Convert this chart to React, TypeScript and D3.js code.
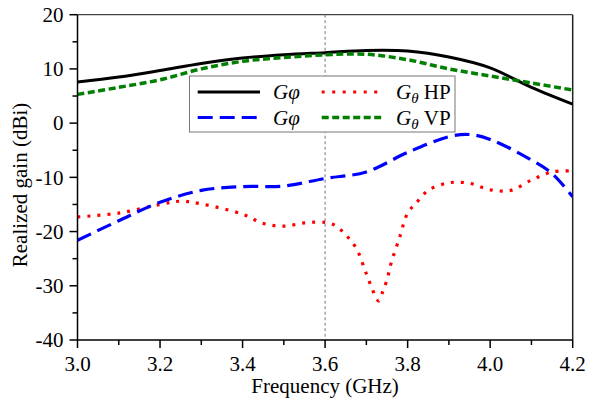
import React from "react";
import * as d3 from "d3";

const freqMain = [3.0, 3.1, 3.2, 3.3, 3.4, 3.5, 3.6, 3.7, 3.8, 3.9, 4.0, 4.1, 4.2];
const gPhiBlack = [7.6, 8.5, 9.7, 11.0, 12.0, 12.6, 13.0, 13.4, 13.3, 12.2, 10.2, 6.6, 3.5];
const gThetaVP = [5.3, 6.6, 8.0, 10.0, 11.4, 12.1, 12.6, 12.7, 11.7, 10.0, 8.7, 7.4, 6.1];
const freqBlue = [3.0, 3.1, 3.2, 3.3, 3.4, 3.5, 3.6, 3.7, 3.8, 3.9, 3.95, 4.0, 4.1, 4.15, 4.2];
const gPhiBlue = [-21.6, -18.0, -14.6, -12.4, -11.7, -11.6, -10.2, -9.0, -5.4, -2.5, -2.1, -3.0, -6.8, -9.3, -13.6];
const freqRed = [3.0, 3.1, 3.2, 3.25, 3.3, 3.4, 3.45, 3.5, 3.55, 3.6, 3.625, 3.65, 3.675, 3.7, 3.72, 3.73, 3.74, 3.75, 3.76, 3.78, 3.8, 3.82, 3.85, 3.9, 3.95, 4.0, 4.05, 4.1, 4.15, 4.2];
const gThetaHP = [-17.3, -16.6, -15.0, -14.4, -14.9, -16.8, -18.5, -19.0, -18.4, -18.3, -18.9, -20.6, -23.0, -27.8, -31.6, -32.8, -31.0, -28.9, -25.8, -21.2, -16.6, -14.8, -12.4, -11.0, -11.1, -12.3, -12.4, -10.5, -9.0, -8.8];
const xTicks = [3.0, 3.2, 3.4, 3.6, 3.8, 4.0, 4.2];
const xMinor = [3.1, 3.3, 3.5, 3.7, 3.9, 4.1];
const yTicks = [20, 10, 0, -10, -20, -30, -40];
const yMinor = [15, 5, -5, -15, -25, -35];
const markerFreq = 3.6;

const FONT = "Liberation Serif";
const ts: React.CSSProperties = { fontFamily: FONT };

export default function App() {
  const left = 77.5, right = 572.7, top = 14.7, bottom = 340;
  const x = d3.scaleLinear().domain([3.0, 4.2]).range([left, right]);
  const y = d3.scaleLinear().domain([-40, 20]).range([bottom, top]);
  const mk = (xs: number[], ys: number[]) =>
    d3.line<number>().x((_, i) => x(xs[i])).y((d) => y(d)).curve(d3.curveCatmullRom.alpha(0.5))(ys) || "";

  const lgX = 189.5, lgY = 76, lgW = 265.5, lgH = 56;
  return (
    <svg width={593} height={404} style={{ position: "absolute", left: 0, top: 0, background: "#fff", fontFamily: FONT }}>
      <defs>
        <clipPath id="plot">
          <rect x={left} y={top} width={right - left} height={bottom - top} />
        </clipPath>
      </defs>
      <line x1={left} x2={right} y1={top} y2={top} stroke="#444" strokeWidth={1.3} />
      <line x1={right} x2={right} y1={top} y2={bottom} stroke="#222" strokeWidth={1.5} />
      <line x1={x(markerFreq)} x2={x(markerFreq)} y1={top} y2={bottom} stroke="#777" strokeWidth={1} strokeDasharray="3,2.5" />
      <g clipPath="url(#plot)" fill="none">
        <path d={mk(freqRed, gThetaHP)} stroke="#ff0000" strokeWidth={3.2} strokeDasharray="3,7" />
        <path d={mk(freqBlue, gPhiBlue)} stroke="#0000ff" strokeWidth={3.2} strokeDasharray="15,7" />
        <path d={mk(freqMain, gPhiBlack)} stroke="#000" strokeWidth={3} />
        <path d={mk(freqMain, gThetaVP)} stroke="#008000" strokeWidth={3.5} strokeDasharray="7,3.5" />
      </g>
      <line x1={left} x2={left} y1={top} y2={bottom} stroke="#000" strokeWidth={1.5} />
      <line x1={left} x2={right} y1={bottom} y2={bottom} stroke="#000" strokeWidth={1.5} />
      {yTicks.map((t) => (
        <g key={"y" + t}>
          <line x1={left - 8} x2={left} y1={y(t)} y2={y(t)} stroke="#000" strokeWidth={1.5} />
          <text x={63.5} y={y(t)} dy="0.35em" textAnchor="end" fontSize={21} style={ts}>{t}</text>
        </g>
      ))}
      {yMinor.map((t) => (
        <line key={"ym" + t} x1={left - 5} x2={left} y1={y(t)} y2={y(t)} stroke="#000" strokeWidth={1.5} />
      ))}
      {xTicks.map((t) => (
        <g key={"x" + t}>
          <line x1={x(t)} x2={x(t)} y1={bottom} y2={bottom + 8} stroke="#000" strokeWidth={1.5} />
          <text x={x(t)} y={370.5} textAnchor="middle" fontSize={21} style={ts}>{t.toFixed(1)}</text>
        </g>
      ))}
      {xMinor.map((t) => (
        <line key={"xm" + t} x1={x(t)} x2={x(t)} y1={bottom} y2={bottom + 5} stroke="#000" strokeWidth={1.5} />
      ))}
      <text x={(left + right) / 2} y={393} textAnchor="middle" fontSize={21} style={ts}>Frequency (GHz)</text>
      <text transform="translate(27,185) rotate(-90)" textAnchor="middle" fontSize={21} style={ts}>Realized gain (dBi)</text>
      <rect x={lgX} y={lgY} width={lgW} height={lgH} fill="#fff" stroke="#777" strokeWidth={1} />
      <line x1={197.7} x2={260} y1={92} y2={92} stroke="#000" strokeWidth={3} />
      <line x1={197.7} x2={260} y1={117.5} y2={117.5} stroke="#0000ff" strokeWidth={3.2} strokeDasharray="15,7" />
      <line x1={321.7} x2={381.7} y1={92} y2={92} stroke="#ff0000" strokeWidth={3.2} strokeDasharray="3,7.5" />
      <line x1={321.7} x2={381.7} y1={117.5} y2={117.5} stroke="#008000" strokeWidth={3.5} strokeDasharray="7,3.5" />
      <text x={273} y={99} fontSize={21} fontStyle="italic" style={ts}>Gφ</text>
      <text x={273} y={124.5} fontSize={21} fontStyle="italic" style={ts}>Gφ</text>
      <text x={396} y={99} fontSize={21} style={ts}>
        <tspan fontStyle="italic">G</tspan>
        <tspan fontStyle="italic" fontSize={15} dy={4}>θ</tspan>
        <tspan dy={-4}> HP</tspan>
      </text>
      <text x={396} y={124.5} fontSize={21} style={ts}>
        <tspan fontStyle="italic">G</tspan>
        <tspan fontStyle="italic" fontSize={15} dy={4}>θ</tspan>
        <tspan dy={-4}> VP</tspan>
      </text>
    </svg>
  );
}
